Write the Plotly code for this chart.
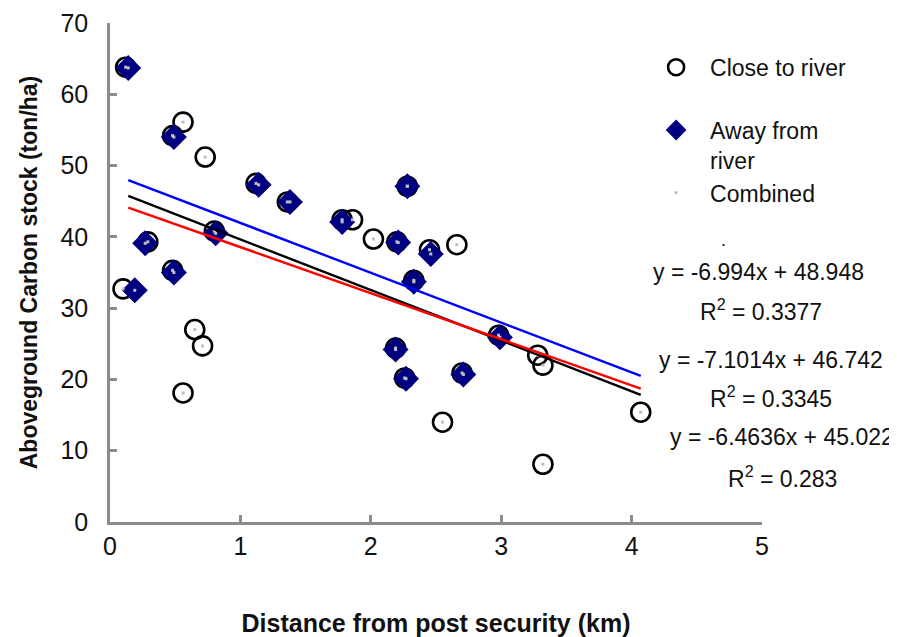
import plotly.graph_objects as go

# Close to river
close_x = [0.12, 0.56, 0.48, 0.73, 1.12, 1.36, 0.10, 0.29, 0.48, 0.65, 0.71, 0.56, 0.80,
           2.28, 1.78, 1.86, 2.02, 2.20, 2.45, 2.66, 2.33, 2.19, 2.26, 2.70, 2.98, 3.28,
           3.32, 2.55, 3.32, 4.07]
close_y = [63.8, 56.1, 54.2, 51.2, 47.5, 44.9, 32.7, 39.3, 35.3, 27.0, 24.7, 18.1, 40.8,
           47.1, 42.4, 42.4, 39.7, 39.3, 38.2, 38.9, 33.9, 24.4, 20.2, 20.9, 26.2, 23.4,
           22.0, 14.0, 8.1, 15.4]

# Away from river
away_x = [0.14, 0.49, 1.14, 1.38, 0.19, 0.27, 0.49, 0.81, 1.78, 2.28, 2.21, 2.46, 2.33,
          2.19, 2.27, 2.71, 2.99]
away_y = [63.7, 54.0, 47.3, 44.9, 32.5, 39.1, 35.0, 40.5, 42.1, 47.1, 39.2, 37.6, 33.7,
          24.2, 20.1, 20.7, 25.9]

# Combined
comb_x = close_x + away_x
comb_y = close_y + away_y

# Trend lines (slope, intercept) and x span
trend_names = ["Away from river", "Close to river", "Combined"]
trend_slope = [-6.994, -7.1014, -6.4636]
trend_icept = [48.948, 46.742, 45.022]
trend_color = ["#0000ff", "#000000", "#ff0000"]
trend_xspan = [0.14, 4.07]

eq_text = ["y = -6.994x + 48.948", "R<sup>2</sup> = 0.3377",
           "y = -7.1014x + 46.742", "R<sup>2</sup> = 0.3345",
           "y = -6.4636x + 45.022", "R<sup>2</sup> = 0.283"]

x_ticks = [0, 1, 2, 3, 4, 5]
y_ticks = [0, 10, 20, 30, 40, 50, 60, 70]

FONT = "Liberation Sans, Arial, sans-serif"

# page has an 8px body margin
OFF = 8
W, H = 897 - OFF, 637 - OFF
L, T = 109.5 - OFF, 23.3 - OFF
R, B = W - (762 - OFF), H - (521.7 - OFF)
pw, ph = W - L - R, H - T - B


def px(xp):
    return (xp - OFF - L) / pw


def py(yp):
    return 1 - (yp - OFF - T) / ph


fig = go.Figure()
fig.add_trace(go.Scatter(
    x=close_x, y=close_y, mode="markers", name="Close to river<br> ",
    legendgroup="a",
    marker=dict(symbol="circle-open", size=19, color="black", line=dict(width=2.6, color="black"))))
fig.add_trace(go.Scatter(
    x=away_x, y=away_y, mode="markers", name="Away from<br>river",
    legendgroup="b",
    marker=dict(symbol="diamond", size=20, color="#000080", line=dict(width=0))))
fig.add_trace(go.Scatter(
    x=comb_x, y=comb_y, mode="markers", name="Combined",
    legendgroup="c",
    marker=dict(symbol="square", size=3, color="#c0c0c0", line=dict(width=0))))

for nm, m, b, c in zip(trend_names, trend_slope, trend_icept, trend_color):
    fig.add_trace(go.Scatter(
        x=trend_xspan, y=[m * v + b for v in trend_xspan], mode="lines",
        line=dict(color=c, width=2.4), showlegend=False, hoverinfo="skip", name=nm + " trend"))

eq_pos = [(758, 272), (761, 310), (771, 360), (771, 397), (782, 437), (783, 477)]

annotations = []
for txt, (xp, yp) in zip(eq_text, eq_pos):
    annotations.append(dict(
        text=txt, x=px(xp), y=py(yp), xref="paper", yref="paper",
        xanchor="center", yanchor="middle", showarrow=False,
        font=dict(family=FONT, size=23, color="#111111")))
annotations.append(dict(text=".", x=px(723), y=py(240), xref="paper", yref="paper",
                        xanchor="center", yanchor="middle", showarrow=False,
                        font=dict(family=FONT, size=18, color="#111111")))

fig.update_layout(
    width=W, height=H,
    margin=dict(l=L, r=R, t=T, b=B, autoexpand=False),
    plot_bgcolor="white", paper_bgcolor="white",
    font=dict(family=FONT, size=24, color="#111111"),
    showlegend=True,
    legend=dict(x=px(642), y=py(46), xanchor="left", yanchor="top",
                bgcolor="rgba(0,0,0,0)", font=dict(family=FONT, size=23, color="#111111"),
                valign="top", tracegroupgap=0, itemwidth=58),
    annotations=annotations,
    xaxis=dict(range=[0, 5], tickvals=x_ticks, showgrid=False, zeroline=False,
               showline=True, linecolor="#8c8c8c", linewidth=2.5,
               ticks="inside", ticklen=7, tickwidth=2.5, tickcolor="#8c8c8c",
               tickfont=dict(family=FONT, size=25, color="#111111"),
               title=dict(text="<b>Distance from post security (km)</b>",
                          font=dict(family=FONT, size=25, color="#111111"), standoff=56),
               automargin=False),
    yaxis=dict(range=[0, 70], tickvals=y_ticks, showgrid=False, zeroline=False,
               showline=True, linecolor="#8c8c8c", linewidth=2.5,
               ticks="inside", ticklen=7, tickwidth=2.5, tickcolor="#8c8c8c",
               ticklabelstandoff=14,
               tickfont=dict(family=FONT, size=25, color="#111111"),
               title=dict(text="<b>Aboveground Carbon stock (ton/ha)</b>",
                          font=dict(family=FONT, size=23, color="#111111"), standoff=17),
               automargin=False),
)

fig.write_html("out.html")
